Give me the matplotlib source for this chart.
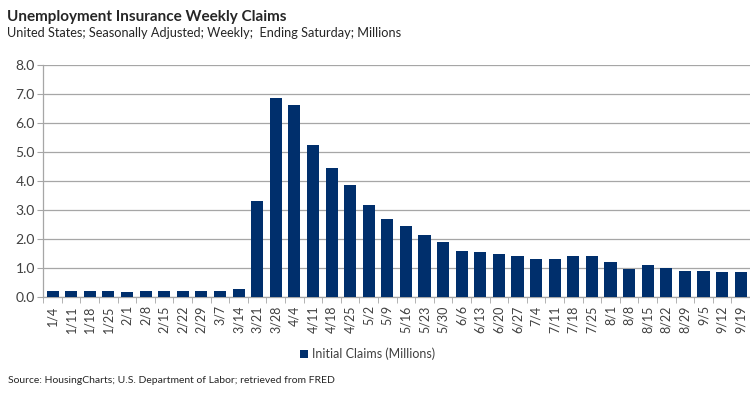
import matplotlib
matplotlib.use("Agg")
import matplotlib.pyplot as plt
from matplotlib.patches import Patch

weeks = ["1/4","1/11","1/18","1/25","2/1","2/8","2/15","2/22","2/29","3/7","3/14",
         "3/21","3/28","4/4","4/11","4/18","4/25","5/2","5/9","5/16","5/23","5/30",
         "6/6","6/13","6/20","6/27","7/4","7/11","7/18","7/25","8/1","8/8","8/15",
         "8/22","8/29","9/5","9/12","9/19"]
claims = [0.21,0.21,0.21,0.21,0.18,0.21,0.21,0.21,0.21,0.21,0.28,
          3.31,6.87,6.62,5.24,4.44,3.87,3.18,2.69,2.45,2.13,1.90,
          1.57,1.54,1.48,1.41,1.31,1.31,1.42,1.43,1.19,0.97,1.10,
          1.01,0.89,0.89,0.87,0.87]
yticks = [0.0,1.0,2.0,3.0,4.0,5.0,6.0,7.0,8.0]

plt.rcParams['font.family'] = ['Lato', 'DejaVu Sans']
bar_color = '#002F6C'
grid_color = '#A6A6A6'
text_color = '#404040'

fig = plt.figure(figsize=(7.5, 3.94), dpi=100)
ax = fig.add_axes([0.0577, 0.2462, 0.9423, 0.5888])

x = list(range(len(weeks)))
ax.bar(x, claims, width=0.65, color=bar_color, zorder=3)
ax.set_xlim(-0.5, len(weeks) - 0.5)
ax.set_ylim(0, 8)
ax.set_yticks(yticks)
ax.set_yticklabels([f"{v:.1f}" for v in yticks], fontsize=10, color=text_color)
ax.set_xticks(x)
ax.set_xticklabels(weeks, rotation=90, fontsize=9, color=text_color)
ax.set_xticks([i - 0.5 for i in range(len(weeks) + 1)], minor=True)
ax.tick_params(axis='x', which='major', length=0, pad=6)
ax.tick_params(axis='x', which='minor', length=4, color=grid_color, direction='out')
ax.tick_params(axis='y', length=4, color=grid_color, direction='out', pad=2)
ax.yaxis.grid(True, color=grid_color, linewidth=0.9, zorder=0)
for s in ['top', 'right']:
    ax.spines[s].set_visible(False)
for s in ['left', 'bottom']:
    ax.spines[s].set_color(grid_color)
    ax.spines[s].set_linewidth(0.9)

fig.text(0.009, 0.958, "Unemployment Insurance Weekly Claims", fontsize=11,
         fontweight='bold', color='#262626', va='center')
fig.text(0.009, 0.916, "United States; Seasonally Adjusted; Weekly;  Ending Saturday; Millions",
         fontsize=9.2, color='#262626', va='center')

fig.legend(handles=[Patch(facecolor=bar_color, label="Initial Claims (Millions)")],
           loc='center', bbox_to_anchor=(0.49, 0.102), frameon=False, fontsize=9,
           handlelength=0.6, handleheight=0.6, handletextpad=0.3, labelcolor=text_color)
fig.text(0.011, 0.033, "Source: HousingCharts; U.S. Department of Labor; retrieved from FRED",
         fontsize=7.5, color='#262626', va='center')

fig.savefig("out.png", dpi=100)
